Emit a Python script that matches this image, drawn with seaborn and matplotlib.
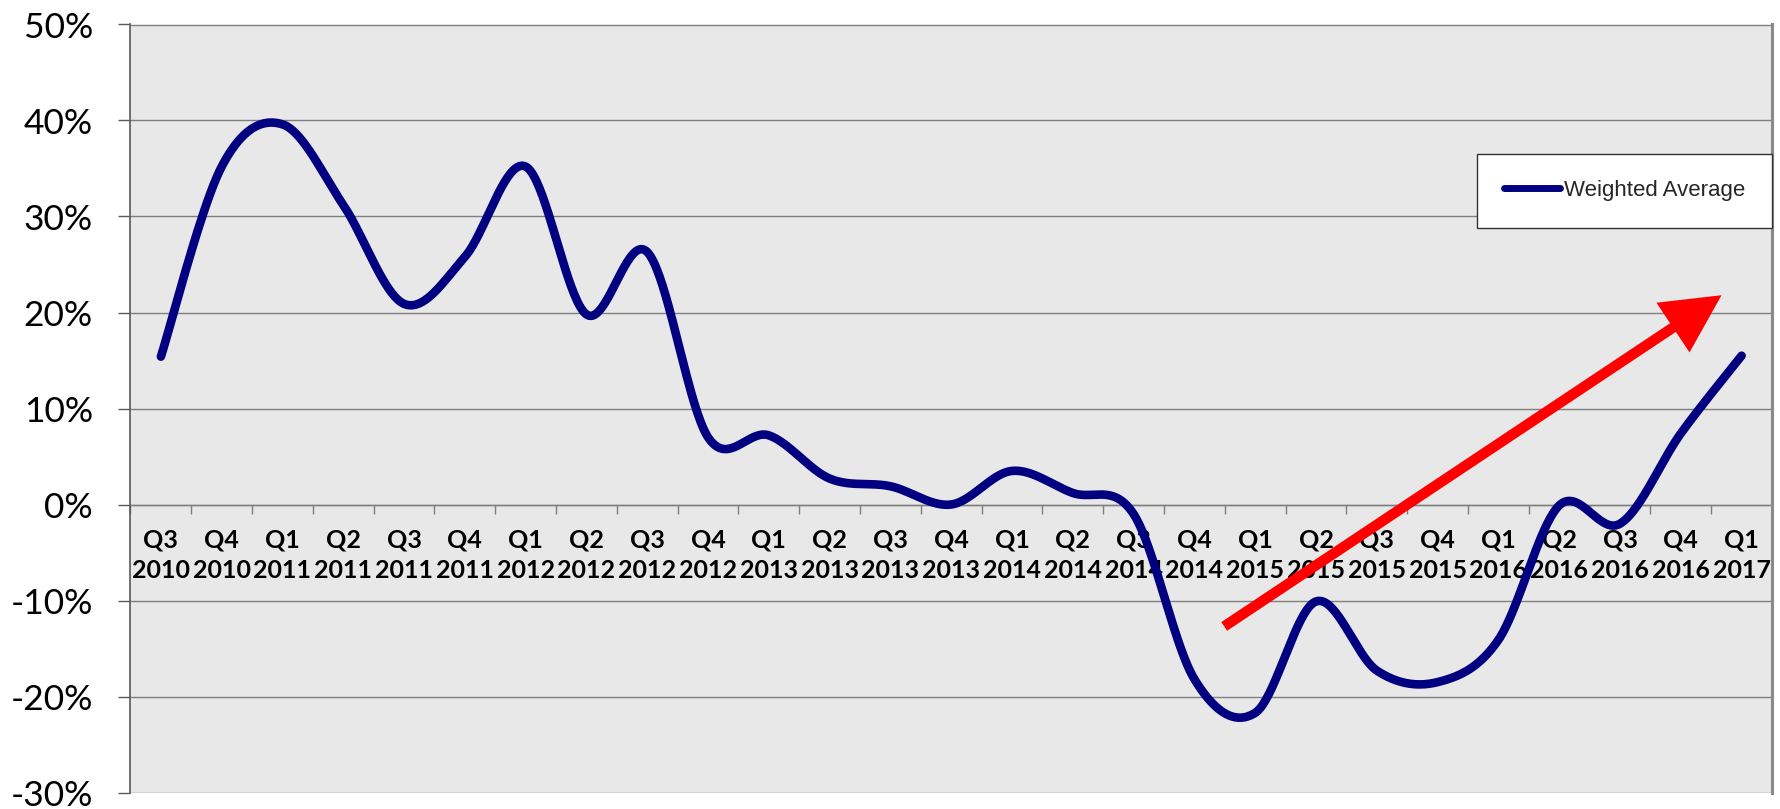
import numpy as np
import pandas as pd
import matplotlib
matplotlib.use("Agg")
import matplotlib.pyplot as plt
import seaborn as sns
from matplotlib.lines import Line2D
from matplotlib.patches import FancyArrowPatch
from matplotlib.ticker import FixedLocator, FixedFormatter

# ---------------- data ----------------
quarters = ["Q3", "Q4", "Q1", "Q2", "Q3", "Q4", "Q1", "Q2", "Q3", "Q4",
            "Q1", "Q2", "Q3", "Q4", "Q1", "Q2", "Q3", "Q4", "Q1", "Q2",
            "Q3", "Q4", "Q1", "Q2", "Q3", "Q4", "Q1"]
years = ["2010", "2010", "2011", "2011", "2011", "2011", "2012", "2012", "2012", "2012",
         "2013", "2013", "2013", "2013", "2014", "2014", "2014", "2014", "2015", "2015",
         "2015", "2015", "2016", "2016", "2016", "2016", "2017"]
weighted_average = [15.4, 35.2, 39.6, 31.2, 20.9, 25.8, 35.2, 19.8, 26.3, 7.0,
                    7.2, 2.7, 1.9, 0.0, 3.5, 1.2, -1.0, -18.2, -21.7, -10.1,
                    -17.3, -18.5, -14.1, -0.1, -2.0, 7.4, 15.5]
y_ticks = [-30, -20, -10, 0, 10, 20, 30, 40, 50]
y_tick_labels = ["-30%", "-20%", "-10%", "0%", "10%", "20%", "30%", "40%", "50%"]
series_name = "Weighted Average"

# trend arrow (category index, percent)
arrow_tail = (17.49, -12.7)
arrow_tip = (25.67, 21.8)

# ---------------- style ----------------
NAVY = "#000080"
GRID = "#7f7f7f"
BG = "#E8E8E8"

sns.set_theme(style="darkgrid", rc={
    "axes.facecolor": BG,
    "figure.facecolor": "white",
    "grid.color": GRID,
    "grid.linewidth": 1.0,
    "axes.unicode_minus": False,
})
plt.rcParams["font.family"] = ["Lato", "DejaVu Sans"]

fig = plt.figure(figsize=(17.81, 8.09), dpi=100)
ax = fig.add_axes([130.5 / 1781, (809 - 792.5) / 809, (1772 - 130.5) / 1781, 768 / 809])

# ---------------- smoothed line (Excel-style Bezier through the points) ----------------
def excel_smooth(xv, yv, n=40):
    xv = np.asarray(xv, float)
    yv = np.asarray(yv, float)
    P = np.column_stack([xv, yv])
    Pe = np.vstack([P[0], P, P[-1]])
    t = np.linspace(0, 1, n, endpoint=False)[:, None]
    pts = []
    for i in range(len(P) - 1):
        p0, p1, p2, p3 = Pe[i], Pe[i + 1], Pe[i + 2], Pe[i + 3]
        c1 = p1 + (p2 - p0) / 6.0
        c2 = p2 - (p3 - p1) / 6.0
        seg = ((1 - t) ** 3) * p1 + 3 * ((1 - t) ** 2) * t * c1 + 3 * (1 - t) * t ** 2 * c2 + t ** 3 * p2
        pts.append(seg)
    pts.append(P[-1][None, :])
    pts = np.vstack(pts)
    return pts[:, 0], pts[:, 1]

x_idx = np.arange(len(weighted_average))
sx, sy = excel_smooth(x_idx, weighted_average)
curve = pd.DataFrame({"x": sx, "y": sy})
sns.lineplot(data=curve, x="x", y="y", sort=False, estimator=None,
             color=NAVY, linewidth=6.2, ax=ax, legend=False, zorder=3)
for ln in ax.lines:
    ln.set_solid_capstyle("round")

# ---------------- trend arrow ----------------
arrow = FancyArrowPatch(posA=arrow_tail, posB=arrow_tip,
                        arrowstyle="simple,head_length=42,head_width=43,tail_width=7.5",
                        mutation_scale=1, color="#FF0000", shrinkA=0, shrinkB=0,
                        transform=ax.transData, zorder=4, linewidth=0)
ax.add_patch(arrow)

# ---------------- axes ----------------
ax.set_xlim(-0.5, len(weighted_average) - 0.5)
ax.set_ylim(-30, 50)

ax.yaxis.set_major_locator(FixedLocator(y_ticks))
ax.yaxis.set_major_formatter(FixedFormatter(y_tick_labels))
ax.tick_params(axis="y", which="major", direction="out", length=9, width=1.0,
               color="#595959", labelsize=25.5, pad=18, left=True, labelcolor="black")

ax.xaxis.set_major_locator(FixedLocator(np.arange(-0.5, len(weighted_average), 1.0)))
ax.xaxis.set_major_formatter(FixedFormatter([""] * (len(weighted_average) + 1)))
ax.xaxis.set_minor_locator(FixedLocator(x_idx))
ax.xaxis.set_minor_formatter(FixedFormatter([f"{q}\n{y}" for q, y in zip(quarters, years)]))
ax.tick_params(axis="x", which="major", direction="out", length=6.5, width=1.0,
               color="#7f7f7f", bottom=True)
ax.tick_params(axis="x", which="minor", length=0, pad=17, labelcolor="black",
               labelsize=18, bottom=True)

ax.xaxis.grid(False)
ax.yaxis.grid(True, color=GRID, linewidth=1.0)

ax.spines["bottom"].set_position(("data", 0))
ax.spines["bottom"].set_color(GRID)
ax.spines["bottom"].set_linewidth(1.0)
ax.spines["bottom"].set_zorder(1)
for side in ["left", "top", "right"]:
    ax.spines[side].set_visible(True)
ax.spines["left"].set_color("#595959")
ax.spines["left"].set_linewidth(1.2)
ax.spines["top"].set_color(GRID)
ax.spines["top"].set_linewidth(1.0)
ax.spines["right"].set_color("#8a8a8a")
ax.spines["right"].set_linewidth(2.2)
ax.set_xlabel("")
ax.set_ylabel("")

# ---------------- legend ----------------
handle = Line2D([0], [0], color=NAVY, linewidth=5, solid_capstyle="round")
leg = ax.legend([handle], [series_name], loc="upper right", bbox_to_anchor=(1.0, 0.832),
                frameon=True, fancybox=False, shadow=False, borderpad=1.2,
                handlelength=2.5, handletextpad=0.2, borderaxespad=0,
                prop={"family": ["Liberation Sans", "DejaVu Sans"], "size": 16})
leg.get_frame().set_edgecolor("#333333")
leg.get_frame().set_linewidth(1.0)
leg.get_frame().set_facecolor("white")
leg.get_frame().set_alpha(1.0)

fig.canvas.draw()
for lbl in ax.get_xticklabels(minor=True):
    lbl.set_fontweight("bold")
    lbl.set_fontsize(18)
    lbl.set_linespacing(1.4)

fig.savefig("out.png", dpi=100, facecolor="white")
